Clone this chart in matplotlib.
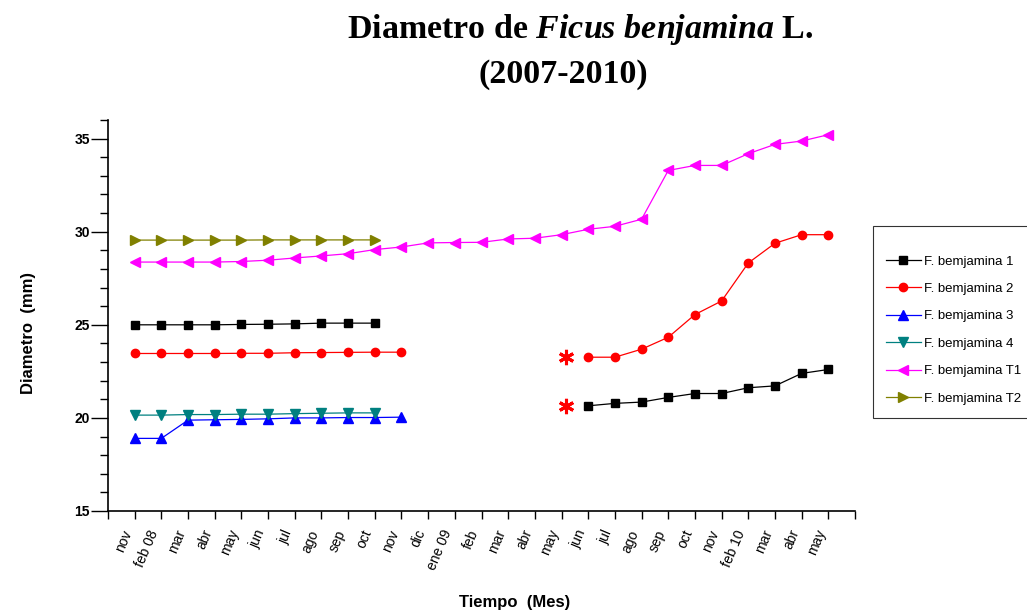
import numpy as np
import matplotlib.pyplot as plt
from matplotlib.ticker import MultipleLocator

plt.rcParams['mathtext.fontset'] = 'custom'
plt.rcParams['mathtext.rm'] = 'Liberation Serif:bold'
plt.rcParams['mathtext.it'] = 'Liberation Serif:italic:bold'

sans = 'Liberation Sans'

meses = ['nov', 'feb 08', 'mar', 'abr', 'may', 'jun', 'jul', 'ago', 'sep', 'oct',
         'nov', 'dic', 'ene 09', 'feb', 'mar', 'abr', 'may', 'jun', 'jul', 'ago',
         'sep', 'oct', 'nov', 'feb 10', 'mar', 'abr', 'may']

N = None
fb1 = [25.0, 25.0, 25.0, 25.0, 25.02, 25.03, 25.05, 25.09, 25.09, 25.09,
       N, N, N, N, N, N, N,
       20.65, 20.78, 20.85, 21.1, 21.31, 21.31, 21.62, 21.72, 22.39, 22.6]
fb2 = [23.46, 23.46, 23.46, 23.46, 23.47, 23.47, 23.5, 23.51, 23.52, 23.53, 23.53,
       N, N, N, N, N, N,
       23.26, 23.26, 23.69, 24.33, 25.55, 26.28, 28.32, 29.38, 29.84, 29.84]
fb3 = [18.9, 18.9, 19.88, 19.9, 19.92, 19.95, 20.0, 20.0, 20.02, 20.02, 20.04,
       N, N, N, N, N, N, N, N, N, N, N, N, N, N, N, N]
fb4 = [20.15, 20.15, 20.18, 20.18, 20.2, 20.2, 20.23, 20.25, 20.27, 20.27,
       N, N, N, N, N, N, N, N, N, N, N, N, N, N, N, N, N]
fbt1 = [28.37, 28.37, 28.37, 28.37, 28.4, 28.47, 28.59, 28.7, 28.82, 29.04,
        29.18, 29.4, 29.42, 29.43, 29.61, 29.65, 29.84, 30.13, 30.29, 30.67,
        33.29, 33.56, 33.56, 34.19, 34.69, 34.87, 35.21]
fbt2 = [29.55, 29.55, 29.55, 29.55, 29.55, 29.56, 29.56, 29.56, 29.56, 29.56,
        N, N, N, N, N, N, N, N, N, N, N, N, N, N, N, N, N]

# asteriscos rojos (reinicio de mediciones)
star_x = [17.15, 17.15]
star_y = [23.25, 20.62]

series = [
    (fb1, 'F. bemjamina 1', 'black', 's', 5.5),
    (fb2, 'F. bemjamina 2', 'red', 'o', 6),
    (fb3, 'F. bemjamina 3', 'blue', '^', 7),
    (fb4, 'F. bemjamina 4', '#008080', 'v', 7),
    (fbt1, 'F. bemjamina T1', 'magenta', '<', 7),
    (fbt2, 'F. bemjamina T2', '#808000', '>', 7),
]

x = np.arange(1, len(meses) + 1)

fig = plt.figure(figsize=(10.27, 6.15), dpi=100)
ax = fig.add_axes([108 / 1027, 1 - 511 / 615, (855 - 108) / 1027, (511 - 120) / 615])

for vals, lab, col, mk, ms in series:
    y = np.array([np.nan if v is None else v for v in vals])
    ax.plot(x, y, color=col, lw=0.9, marker=mk, ms=ms, mec=col, mfc=col, label=lab)

ax.plot(star_x, star_y, ls='none', marker=(6, 2, 0), ms=11, mew=2.2, color='red')

ax.set_xlim(0, 28)
ax.set_ylim(15, 36)
ax.set_xticks(np.arange(0, 29))
ax.set_xticklabels([''] + meses + [''], rotation=67, ha='right',
                   family=sans, fontsize=10)
ax.yaxis.set_major_locator(MultipleLocator(5))
ax.yaxis.set_minor_locator(MultipleLocator(1))
for t in ax.get_yticklabels():
    t.set_fontweight('bold')
    t.set_family(sans)
    t.set_fontsize(10)

ax.spines['top'].set_visible(False)
ax.spines['right'].set_visible(False)
ax.spines['left'].set_linewidth(1.2)
ax.spines['bottom'].set_linewidth(1.2)
ax.tick_params(axis='y', which='major', length=12, width=1, pad=1)
ax.tick_params(axis='y', which='minor', length=6, width=1)
ax.tick_params(axis='x', which='major', length=6, width=1, pad=6)

fig.text(580 / 1027, 1 - 38 / 615, r'Diametro de $Ficus\ benjamina$ L.',
         family='Liberation Serif', weight='bold', fontsize=24.5,
         ha='center', va='baseline')
fig.text(563 / 1027, 1 - 83 / 615, '(2007-2010)',
         family='Liberation Serif', weight='bold', fontsize=24.5,
         ha='center', va='baseline')

fig.text(28 / 1027, 1 - 333 / 615, 'Diametro  (mm)', rotation=90,
         family=sans, weight='bold', fontsize=12,
         ha='center', va='center')
fig.text(515 / 1027, 1 - 603 / 615, 'Tiempo  (Mes)',
         family=sans, weight='bold', fontsize=12,
         ha='center', va='center')

leg = fig.legend(loc='upper left', bbox_to_anchor=(873 / 1027, 1 - 226 / 615),
                 prop={'family': sans, 'size': 9.5}, frameon=True,
                 fancybox=False, edgecolor='black', handlelength=2.6,
                 labelspacing=1.15, borderpad=1.0, handletextpad=0.3,
                 borderaxespad=0, title=' ', title_fontsize=1)
leg.get_frame().set_linewidth(0.8)

fig.savefig('out.png', dpi=100)
